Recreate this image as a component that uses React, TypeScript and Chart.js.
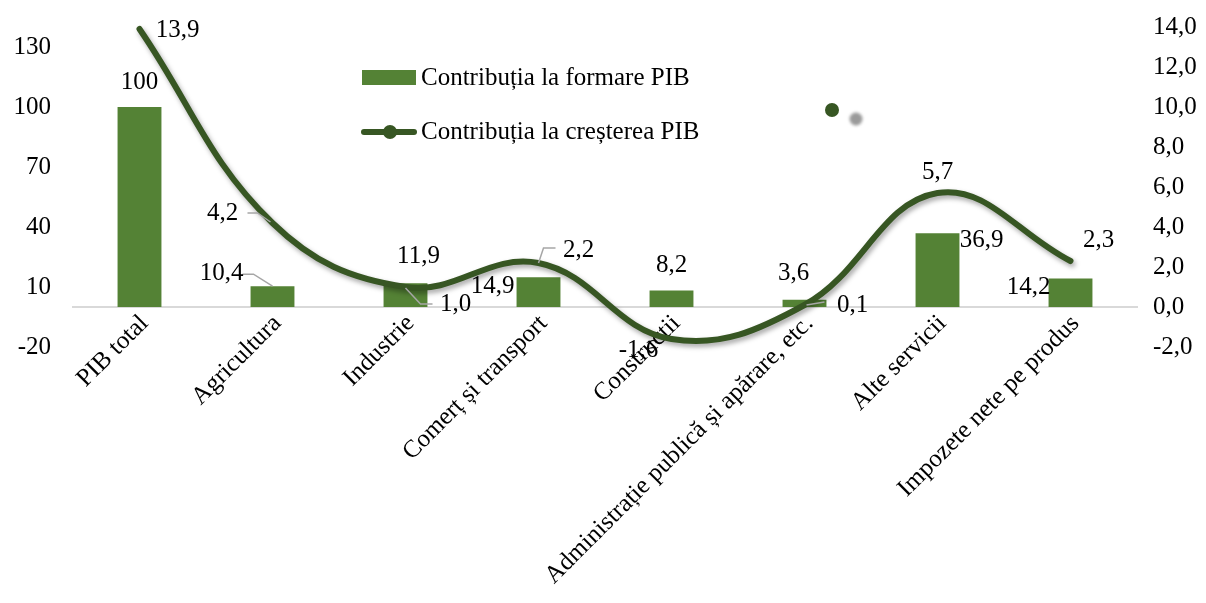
import React, { useEffect, useRef } from 'react';
import { Chart, registerables } from 'chart.js';

Chart.register(...registerables);

// ---------- DATA ----------
const categories = [
  'PIB total',
  'Agricultura',
  'Industrie',
  'Comerț și transport',
  'Construcții',
  'Administrație publică și apărare, etc.',
  'Alte servicii',
  'Impozete nete pe produs',
];
const formareValues = [100, 10.4, 11.9, 14.9, 8.2, 3.6, 36.9, 14.2];
const crestereValues = [13.9, 4.2, 1.0, 2.2, -1.6, 0.1, 5.7, 2.3];
const leftTicks = [-20, 10, 40, 70, 100, 130];
const rightTicks = [-2, 0, 2, 4, 6, 8, 10, 12, 14];
const seriesNames = ['Contribuția la formare PIB', 'Contribuția la creșterea PIB'];

// ---------- STYLE ----------
const FONT = '"Liberation Serif", "DejaVu Serif", serif';
const FONT_SIZE = 25;
const BAR_COLOR = '#548235';
const LINE_COLOR = '#375623';
const LEADER_COLOR = '#a6a6a6';

type LabelStyle = { dx: number; dy: number; leader?: number[][] };

const barLabelStyle: LabelStyle[] = [
  { dx: 0, dy: -25 },
  { dx: -51, dy: -13, leader: [[-30, -12], [-19, -12], [0, 0]] },
  { dx: 13, dy: -27 },
  { dx: -46, dy: 9 },
  { dx: 0, dy: -25 },
  { dx: -11, dy: -26 },
  { dx: 44, dy: 7 },
  { dx: -42, dy: 9 },
];
const lineLabelStyle: LabelStyle[] = [
  { dx: 38, dy: 1 },
  { dx: -50, dy: -10, leader: [[-25, -10], [-15, -10], [-2, -1]] },
  { dx: 50, dy: 17, leader: [[0, 1], [15, 17], [27, 17]] },
  { dx: 40, dy: -13, leader: [[0, 0], [5, -15], [17, -15]] },
  { dx: -33, dy: 11 },
  { dx: 48, dy: 0, leader: [[2, 0], [20, -3]] },
  { dx: 0, dy: -21 },
  { dx: 28, dy: -21 },
];

const fmtBar = (v: number) => String(v).replace('.', ',');
const fmtLine = (v: number) => v.toFixed(1).replace('.', ',');

const lineShadowPlugin = {
  id: 'lineShadow',
  beforeDatasetDraw(chart: any, args: any) {
    if (args.index === 1) {
      const ctx = chart.ctx;
      ctx.save();
      ctx.shadowColor = 'rgba(0,0,0,0.35)';
      ctx.shadowBlur = 5;
      ctx.shadowOffsetX = 2;
      ctx.shadowOffsetY = 3;
    }
  },
  afterDatasetDraw(chart: any, args: any) {
    if (args.index === 1) chart.ctx.restore();
  },
};

const valueLabelsPlugin = {
  id: 'valueLabels',
  afterDatasetsDraw(chart: any) {
    const ctx = chart.ctx;
    ctx.save();
    ctx.font = `${FONT_SIZE}px ${FONT}`;
    ctx.textAlign = 'center';
    ctx.textBaseline = 'middle';
    [0, 1].forEach((di) => {
      const meta = chart.getDatasetMeta(di);
      const vals = chart.data.datasets[di].data as number[];
      const styles = di === 0 ? barLabelStyle : lineLabelStyle;
      meta.data.forEach((el: any, i: number) => {
        const s = styles[i];
        const ax = el.x;
        const ay = el.y;
        if (s.leader) {
          ctx.strokeStyle = LEADER_COLOR;
          ctx.lineWidth = 1.5;
          ctx.beginPath();
          s.leader.forEach(([lx, ly], k) => {
            if (k === 0) ctx.moveTo(ax + lx, ay + ly);
            else ctx.lineTo(ax + lx, ay + ly);
          });
          ctx.stroke();
        }
        ctx.fillStyle = '#000';
        const txt = di === 0 ? fmtBar(vals[i]) : fmtLine(vals[i]);
        ctx.fillText(txt, ax + s.dx, ay + s.dy);
      });
    });
    ctx.restore();
  },
};

const legendPlugin = {
  id: 'customLegend',
  afterDraw(chart: any) {
    const ctx = chart.ctx;
    ctx.save();
    ctx.font = `${FONT_SIZE}px ${FONT}`;
    ctx.textAlign = 'left';
    ctx.textBaseline = 'middle';
    // bar entry
    ctx.fillStyle = BAR_COLOR;
    ctx.fillRect(362, 70, 54, 15);
    ctx.fillStyle = '#000';
    ctx.fillText(seriesNames[0], 421, 78);
    // line entry
    ctx.strokeStyle = LINE_COLOR;
    ctx.lineWidth = 6;
    ctx.lineCap = 'round';
    ctx.beginPath();
    ctx.moveTo(364, 132);
    ctx.lineTo(414, 132);
    ctx.stroke();
    ctx.fillStyle = LINE_COLOR;
    ctx.beginPath();
    ctx.arc(390, 132, 7, 0, Math.PI * 2);
    ctx.fill();
    ctx.fillStyle = '#000';
    ctx.fillText(seriesNames[1], 421, 132);
    // stray marker + shadow
    ctx.save();
    ctx.filter = 'blur(1.5px)';
    ctx.fillStyle = '#9a9a9a';
    ctx.beginPath();
    ctx.arc(856, 119, 6.5, 0, Math.PI * 2);
    ctx.fill();
    ctx.restore();
    ctx.fillStyle = LINE_COLOR;
    ctx.beginPath();
    ctx.arc(832, 110, 7, 0, Math.PI * 2);
    ctx.fill();
    ctx.restore();
  },
};

export default function App() {
  const canvasRef = useRef<HTMLCanvasElement | null>(null);

  useEffect(() => {
    if (!canvasRef.current) return;
    const font = { family: FONT, size: FONT_SIZE };
    const chart = new Chart(canvasRef.current, {
      type: 'bar',
      data: {
        labels: categories,
        datasets: [
          {
            type: 'bar',
            label: seriesNames[0],
            data: formareValues,
            backgroundColor: BAR_COLOR,
            borderWidth: 0,
            barPercentage: 0.33,
            categoryPercentage: 1,
            yAxisID: 'y',
            order: 1,
          } as any,
          {
            type: 'line',
            label: seriesNames[1],
            data: crestereValues,
            borderColor: LINE_COLOR,
            backgroundColor: LINE_COLOR,
            borderWidth: 6,
            borderCapStyle: 'round',
            pointRadius: 0,
            tension: 0.4,
            fill: false,
            yAxisID: 'y1',
            order: 0,
            clip: false,
          } as any,
        ],
      },
      options: {
        responsive: false,
        animation: false,
        layout: { padding: { top: 27, bottom: 256, left: 0, right: 0 } },
        plugins: {
          legend: { display: false },
          tooltip: { enabled: false },
        },
        scales: {
          x: {
            type: 'category',
            axis: 'x',
            position: { y1: 0 } as any,
            offset: true,
            grid: { display: false, drawTicks: false },
            border: { display: true, color: '#d9d9d9', width: 2 },
            ticks: {
              autoSkip: false,
              maxRotation: 45,
              minRotation: 45,
              padding: 2,
              labelOffset: 5,
              font,
              color: '#000',
            },
          } as any,
          y: {
            type: 'linear',
            position: 'left',
            min: -20,
            max: 140,
            afterBuildTicks: (s: any) => {
              s.ticks = leftTicks.map((v) => ({ value: v }));
            },
            afterFit: (s: any) => {
              s.width = 73;
            },
            grid: {
              display: true,
              drawOnChartArea: false,
              drawTicks: true,
              tickLength: 22,
              color: 'rgba(0,0,0,0)',
            },
            border: { display: false },
            ticks: { padding: 0, font, color: '#000' },
          } as any,
          y1: {
            type: 'linear',
            position: 'right',
            min: -2,
            max: 14,
            afterBuildTicks: (s: any) => {
              s.ticks = rightTicks.map((v) => ({ value: v }));
            },
            afterFit: (s: any) => {
              s.width = 69;
            },
            grid: {
              display: true,
              drawOnChartArea: false,
              drawTicks: true,
              tickLength: 16,
              color: 'rgba(0,0,0,0)',
            },
            border: { display: false },
            ticks: {
              padding: 0,
              font,
              color: '#000',
              callback: (v: any) => Number(v).toFixed(1).replace('.', ','),
            },
          } as any,
        },
      },
      plugins: [lineShadowPlugin, valueLabelsPlugin, legendPlugin],
    });
    return () => chart.destroy();
  }, []);

  return (
    <div style={{ position: 'fixed', left: 0, top: 0, width: 1206, height: 603, background: '#fff' }}>
      <canvas ref={canvasRef} width={1206} height={603} style={{ display: 'block' }} />
    </div>
  );
}
